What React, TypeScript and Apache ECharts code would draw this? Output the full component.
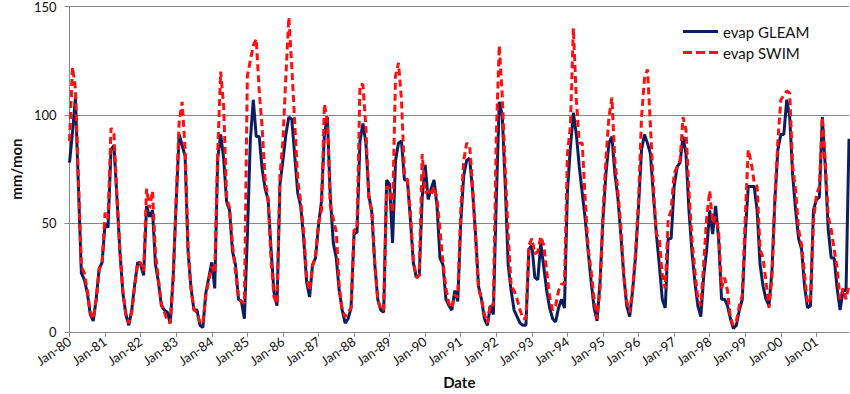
import React, { useEffect, useRef } from "react";
import * as echarts from "echarts";

const years = ["80","81","82","83","84","85","86","87","88","89","90","91","92","93","94","95","96","97","98","99","00","01"];
const monthNames = ["Jan","Feb","Mar","Apr","May","Jun","Jul","Aug","Sep","Oct","Nov","Dec"];

const gleam = [
  78, 92, 108, 67, 27, 24, 18, 8, 5, 15, 29, 32,
  50, 48, 84, 86, 62, 37, 18, 8, 3, 10, 22, 32,
  31, 26, 58, 53, 56, 31, 23, 12, 10, 9, 4, 26,
  60, 91, 86, 81, 37, 20, 10, 10, 3, 2, 18, 25,
  32, 20, 80, 91, 80, 60, 56, 37, 31, 15, 14, 6,
  44, 88, 107, 90, 90, 75, 66, 61, 38, 18, 12, 68,
  79, 91, 99, 98, 81, 64, 58, 43, 23, 16, 31, 34,
  49, 60, 91, 99, 62, 41, 34, 19, 10, 4, 6, 11,
  45, 46, 88, 96, 87, 63, 55, 31, 15, 10, 9, 70,
  68, 41, 79, 87, 88, 70, 70, 52, 32, 25, 26, 62,
  77, 61, 66, 70, 58, 34, 31, 15, 12, 10, 19, 14,
  50, 72, 79, 80, 65, 45, 21, 15, 6, 3, 12, 8,
  61, 106, 100, 68, 31, 19, 10, 7, 4, 3, 3, 38,
  40, 25, 24, 41, 30, 19, 11, 6, 4.5, 11, 15, 11,
  65, 85, 101, 91, 76, 64, 52, 37, 23, 11, 5, 23,
  52, 73, 87, 90, 73, 62, 45, 26, 12, 7, 19, 35,
  58, 84, 91, 87, 82, 63, 45, 31, 15, 11, 43, 43,
  67, 76, 78, 90, 82, 56, 37, 23, 12, 7, 26, 38,
  56, 45, 58, 43, 15, 15, 12, 6, 1.5, 3, 10, 15,
  45, 67, 67, 67, 56, 31, 21, 15, 12, 28, 61, 84,
  91, 91, 107, 99, 72, 56, 43, 38, 21, 11, 12, 56,
  61, 62, 99, 76, 47, 34, 34, 20, 10, 19, 19, 89,
];

const swim = [
  88, 122, 112, 70, 30, 27, 19, 9, 6, 15, 29, 32,
  55, 52, 94, 91, 62, 38, 19, 8, 4, 9, 21, 32,
  32, 28, 66, 57, 65, 36, 24, 13, 9, 5, 4, 25,
  62, 97, 106, 84, 38, 20, 10, 9, 4, 4, 17, 24,
  30, 27, 83, 120, 104, 62, 57, 40, 28, 16, 14, 13,
  118, 125, 132, 135, 111, 94, 70, 61, 33, 16, 13, 72,
  88, 118, 145, 122, 96, 70, 60, 46, 25, 19, 30, 35,
  50, 56, 105, 97, 58, 52, 46, 21, 10, 7, 9, 11,
  47, 47, 114, 114, 94, 61, 56, 31, 15, 10, 10, 67,
  66, 55, 118, 124, 107, 73, 70, 55, 33, 25, 26, 82,
  64, 65, 63, 67, 61, 47, 32, 20, 13, 11, 17, 16,
  56, 79, 87, 86, 67, 43, 20, 15, 8, 4, 13, 12,
  91, 132, 109, 75, 45, 21, 19, 15, 10, 6, 6, 40,
  43, 36, 37, 44, 40, 28, 16, 10, 12, 19, 22, 22,
  82, 95, 140, 107, 87, 87, 61, 38, 28, 15, 6, 20,
  55, 80, 99, 108, 79, 65, 49, 26, 14, 9, 20, 37,
  61, 99, 117, 121, 95, 67, 45, 43, 26, 20, 52, 56,
  73, 76, 79, 99, 93, 65, 43, 28, 15, 12, 32, 53,
  65, 50, 53, 47, 20, 25, 19, 6, 3, 5, 12, 17,
  53, 84, 78, 69, 67, 38, 34, 23, 11, 25, 61, 88,
  107, 109, 111, 110, 76, 65, 47, 40, 26, 13, 15, 51,
  63, 67, 99, 78, 53, 47, 38, 29, 15, 20, 15, 22,
];

const categories: string[] = [];
years.forEach((y) => monthNames.forEach((m) => categories.push(m + "-" + y)));

const FONT = "Lato, 'Open Sans', sans-serif";
const BLUE = "#0b1f5e";
const RED = "#ff1010";

export default function App() {
  const ref = useRef<HTMLDivElement>(null);
  useEffect(() => {
    if (!ref.current) return;
    const chart = echarts.init(ref.current, null, { renderer: "svg" });
    chart.setOption({
      animation: false,
      backgroundColor: "#ffffff",
      textStyle: { fontFamily: FONT },
      grid: { left: 52, right: 1, top: 6, bottom: 61, containLabel: false },
      legend: {
        orient: "vertical",
        left: 678,
        top: 19,
        itemWidth: 35,
        itemHeight: 3,
        itemGap: 6,
        textStyle: { fontFamily: FONT, fontSize: 15, color: "#111" },
        data: [
          { name: "evap GLEAM", icon: "path://M0,0H35V3H0Z" },
          { name: "evap SWIM", icon: "path://M0,0H9V3H0ZM13,0H22V3H13ZM26,0H35V3H26Z" },
        ],
      },
      xAxis: {
        type: "category",
        data: categories,
        boundaryGap: false,
        name: "Date",
        nameLocation: "middle",
        nameGap: 41,
        nameTextStyle: { fontFamily: FONT, fontWeight: "bold", fontSize: 15, color: "#111" },
        axisLine: { lineStyle: { color: "#868686", width: 1 } },
        axisTick: {
          show: true,
          length: 5,
          interval: (i: number) => i % 12 === 0,
          lineStyle: { color: "#868686" },
        },
        axisLabel: {
          interval: (i: number) => i % 12 === 0,
          rotate: 35,
          margin: 8,
          fontFamily: FONT,
          fontSize: 13,
          color: "#111",
        },
        splitLine: { show: false },
      },
      yAxis: {
        type: "value",
        min: 0,
        max: 150,
        interval: 50,
        name: "mm/mon",
        nameLocation: "middle",
        nameGap: 26,
        nameRotate: 90,
        nameTextStyle: { fontFamily: FONT, fontWeight: "bold", fontSize: 15, color: "#111" },
        axisLine: { show: true, lineStyle: { color: "#868686", width: 1 } },
        axisTick: { show: true, length: 5, lineStyle: { color: "#868686" } },
        axisLabel: { margin: 13, fontFamily: FONT, fontSize: 13, color: "#111" },
        splitLine: { show: true, lineStyle: { color: "#868686", width: 1 } },
      },
      series: [
        {
          name: "evap GLEAM",
          type: "line",
          data: gleam,
          symbol: "none",
          color: BLUE,
          itemStyle: { color: BLUE },
          lineStyle: { color: BLUE, width: 3 },
        },
        {
          name: "evap SWIM",
          type: "line",
          data: swim,
          symbol: "none",
          color: RED,
          itemStyle: { color: RED },
          lineStyle: { color: RED, width: 3, type: [7, 4] },
        },
      ],
    });
    return () => chart.dispose();
  }, []);
  return (
    <div
      ref={ref}
      style={{ position: "fixed", left: 0, top: 0, width: 850, height: 394, background: "#fff" }}
    />
  );
}
